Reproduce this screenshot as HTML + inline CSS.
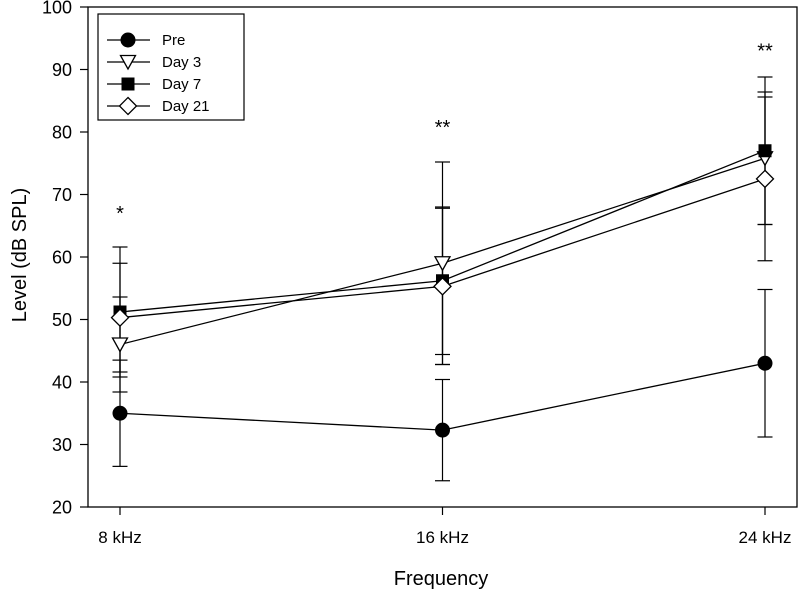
<!DOCTYPE html>
<html><head><meta charset="utf-8"><style>
body{margin:0;background:#fff;}
svg text{font-family:"Liberation Sans",Arial,sans-serif;fill:#000;}
</style></head><body>
<svg width="800" height="593" xmlns="http://www.w3.org/2000/svg">
<g id="plot"></g>
</svg>
<script>
const categories=["8 kHz","16 kHz","24 kHz"];
const yTicks=[20,30,40,50,60,70,80,90,100];
const seriesNames=["Pre","Day 3","Day 7","Day 21"];
const preVals=[35,32.3,43];
const preErr=[8.5,8.1,11.8];
const day3Vals=[46,59,75.8];
const day3Err=[7.6,16.2,10.6];
const day7Vals=[51.2,56.2,77];
const day7Err=[10.4,11.8,11.8];
const day21Vals=[50.3,55.3,72.5];
const day21Err=[8.7,12.5,13.1];
const sigLabels=["*","**","**"];
const sigLevels=[67.4,81.1,93.4];

const NS="http://www.w3.org/2000/svg";
const g=document.getElementById('plot');
const L=88,R=797,T=7,B=507;
const xPos=[120,441,765];
function xs(i){return xPos[0]+(xPos[2]-xPos[0])*i/(categories.length-1);}
function ys(v){return B-(v-20)/80*(B-T);}
function el(tag,attrs,parent){const e=document.createElementNS(NS,tag);for(const k in attrs)e.setAttribute(k,attrs[k]);(parent||g).appendChild(e);return e;}

const frame=el('rect',{x:L,y:T,width:R-L,height:B-T,fill:'none',stroke:'#000','stroke-width':1.3});



yTicks.forEach(v=>{
  const t=el('line',{x1:L-8,x2:L,y1:ys(v),y2:ys(v),stroke:'#000','stroke-width':1.2});
  
  
  const tx=el('text',{x:72,y:ys(v)+6.5,'text-anchor':'end','font-size':18});
  tx.textContent=v;
  
  
});
categories.forEach((c,i)=>{
  const t=el('line',{x1:xs(i),x2:xs(i),y1:B,y2:B+8,stroke:'#000','stroke-width':1.2});
  
  
  const tx=el('text',{x:xs(i),y:B+36,'text-anchor':'middle','font-size':17});
  tx.textContent=c;
  
  
});
const xt=el('text',{x:441,y:585,'text-anchor':'middle','font-size':20});
xt.textContent='Frequency';


const yt=el('text',{x:0,y:0,'text-anchor':'middle','font-size':20,transform:'translate(26,255) rotate(-90)'});
yt.textContent='Level (dB SPL)';



function marker(kind,x,y,parent){
  let m;
  if(kind==='circle')m=el('circle',{cx:x,cy:y,r:7,fill:'#000',stroke:'#000'},parent);
  else if(kind==='tri')m=el('polygon',{points:`${x-7.5},${y-6.5} ${x+7.5},${y-6.5} ${x},${y+7}`,fill:'#fff',stroke:'#000','stroke-width':1.3},parent);
  else if(kind==='square')m=el('rect',{x:x-6.5,y:y-6.5,width:13,height:13,fill:'#000'},parent);
  else m=el('polygon',{points:`${x},${y-8.5} ${x+8.5},${y} ${x},${y+8.5} ${x-8.5},${y}`,fill:'#fff',stroke:'#000','stroke-width':1.3},parent);
  return m;
}
const series=[[preVals,preErr,'circle'],[day3Vals,day3Err,'tri'],[day7Vals,day7Err,'square'],[day21Vals,day21Err,'diamond']];
series.forEach(([v,e],si)=>{
  v.forEach((val,i)=>{
    const x=xs(i);
    const ln=el('line',{x1:x,x2:x,y1:ys(val+e[i]),y2:ys(val-e[i]),stroke:'#000','stroke-width':1.2});
    
    
    [val+e[i],val-e[i]].forEach(cv=>{
      const c=el('line',{x1:x-7.5,x2:x+7.5,y1:ys(cv),y2:ys(cv),stroke:'#000','stroke-width':1.2});
      
      
    });
  });
});
series.forEach(([v,e,k],si)=>{
  const p=el('polyline',{points:v.map((val,i)=>xs(i)+','+ys(val)).join(' '),fill:'none',stroke:'#000','stroke-width':1.3});
  
  
});
series.forEach(([v,e,k],si)=>{
  v.forEach((val,i)=>{
    const m=marker(k,xs(i),ys(val));
    
    
  });
});
sigLabels.forEach((s,i)=>{
  const t=el('text',{x:xs(i),y:ys(sigLevels[i])+9,'text-anchor':'middle','font-size':20});
  t.textContent=s;
  
  
});
const lg=el('g',{});


const lb=el('rect',{x:98,y:14,width:146,height:106,fill:'#fff',stroke:'#000','stroke-width':1.2},lg);


seriesNames.forEach((n,i)=>{
  const y=40+i*22;
  const l=el('line',{x1:107,x2:150,y1:y,y2:y,stroke:'#000','stroke-width':1.3},lg);
  
  
  const m=marker(series[i][2],128,y,lg);
  
  
  const t=el('text',{x:162,y:y+5,'font-size':15},lg);
  t.textContent=n;
  
  
});
</script>
</body></html>
